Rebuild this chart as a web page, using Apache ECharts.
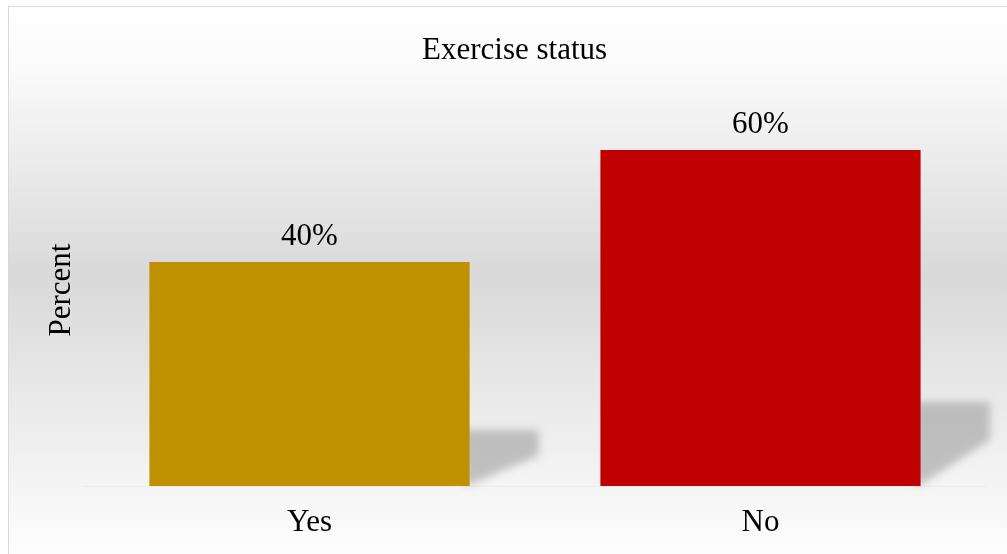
<!DOCTYPE html>
<html>
<head>
<meta charset="utf-8">
<script src="https://cdn.jsdelivr.net/npm/echarts@6/dist/echarts.min.js"></script>
<style>
  html, body { margin: 0; padding: 0; background: #ffffff; }
  #chart { width: 1007px; height: 554px; }
</style>
</head>
<body>
<div id="chart"></div>
<script>
// Exercise status survey: share of respondents per answer
const categories = ['Yes', 'No'];
const percentValues = [40, 60];
const barColors = ['#BF9000', '#C00000'];
const chartTitle = 'Exercise status';
const yAxisTitle = 'Percent';

const FONT = '"Liberation Serif", "Times New Roman", serif';
const chart = echarts.init(document.getElementById('chart'), null, { renderer: 'canvas' });

// Soft perspective shadow cast to the right of each bar, sized from the bar's value.
// The shape itself is moved off to the left and only its blurred shadow is
// shifted back into place, so the shadow has soft edges all round.
const SHIFT = 2000;
function renderShadow(params, api) {
  const idx = api.value(0);
  const val = api.value(1);
  const base = api.coord([idx, 0]);
  const top = api.coord([idx, val]);
  const bandW = api.size([1, 0])[0];
  const barW = bandW * 0.71;
  const x1 = base[0] + barW / 2 - 6;
  const h = base[1] - top[1];
  const sh = h * 0.25;
  const w = barW * 0.235;
  const pts = [
    [x1, base[1] - 2],
    [x1, base[1] - sh],
    [x1 + w, base[1] - sh],
    [x1 + w, base[1] - sh * 0.55],
    [x1 + w * 0.1, base[1] - 2]
  ].map(p => [p[0] - SHIFT, p[1]]);
  return {
    type: 'polygon',
    shape: { points: pts },
    style: {
      fill: '#000000',
      shadowBlur: 9,
      shadowOffsetX: SHIFT,
      shadowColor: 'rgba(150,150,150,0.55)'
    },
    z2: 0
  };
}

const option = {
  animation: false,
  graphic: [{
    type: 'rect',
    z: -10,
    silent: true,
    shape: { x: 8.5, y: 6.5, width: 1010, height: 560 },
    style: {
      fill: new echarts.graphic.LinearGradient(0, 0, 0, 1, [
        { offset: 0, color: '#ffffff' },
        { offset: 0.1, color: '#fbfbfb' },
        { offset: 0.48, color: '#d9d9d9' },
        { offset: 0.86, color: '#f5f5f5' },
        { offset: 1, color: '#ffffff' }
      ]),
      stroke: '#d9d9d9',
      lineWidth: 1
    }
  }],
  title: {
    text: chartTitle,
    left: 417,
    top: 30,
    textStyle: { fontFamily: FONT, fontSize: 31, fontWeight: 'normal', color: '#000000' }
  },
  grid: { left: 84, right: 21, top: 94, bottom: 68 },
  xAxis: {
    type: 'category',
    data: categories,
    axisTick: { show: false },
    axisLine: { show: true, lineStyle: { color: '#ececec', width: 1 } },
    axisLabel: { fontFamily: FONT, fontSize: 31, color: '#000000', margin: 21 }
  },
  yAxis: {
    type: 'value',
    min: 0,
    max: 70,
    axisLabel: { show: false },
    axisLine: { show: false },
    axisTick: { show: false },
    splitLine: { show: false },
    name: yAxisTitle,
    nameLocation: 'middle',
    nameGap: 7,
    nameTextStyle: { fontFamily: FONT, fontSize: 31, color: '#000000' }
  },
  series: [
    {
      type: 'custom',
      renderItem: renderShadow,
      clip: false,
      data: categories.map((c, i) => [i, percentValues[i]]),
      z: 1,
      silent: true
    },
    {
      type: 'bar',
      barCategoryGap: '29%',
      z: 2,
      data: percentValues.map((v, i) => ({ value: v, itemStyle: { color: barColors[i] } })),
      label: {
        show: true,
        position: 'top',
        distance: 10,
        formatter: '{c}%',
        fontFamily: FONT,
        fontSize: 31,
        color: '#000000'
      }
    }
  ]
};

chart.setOption(option);
</script>
</body>
</html>
